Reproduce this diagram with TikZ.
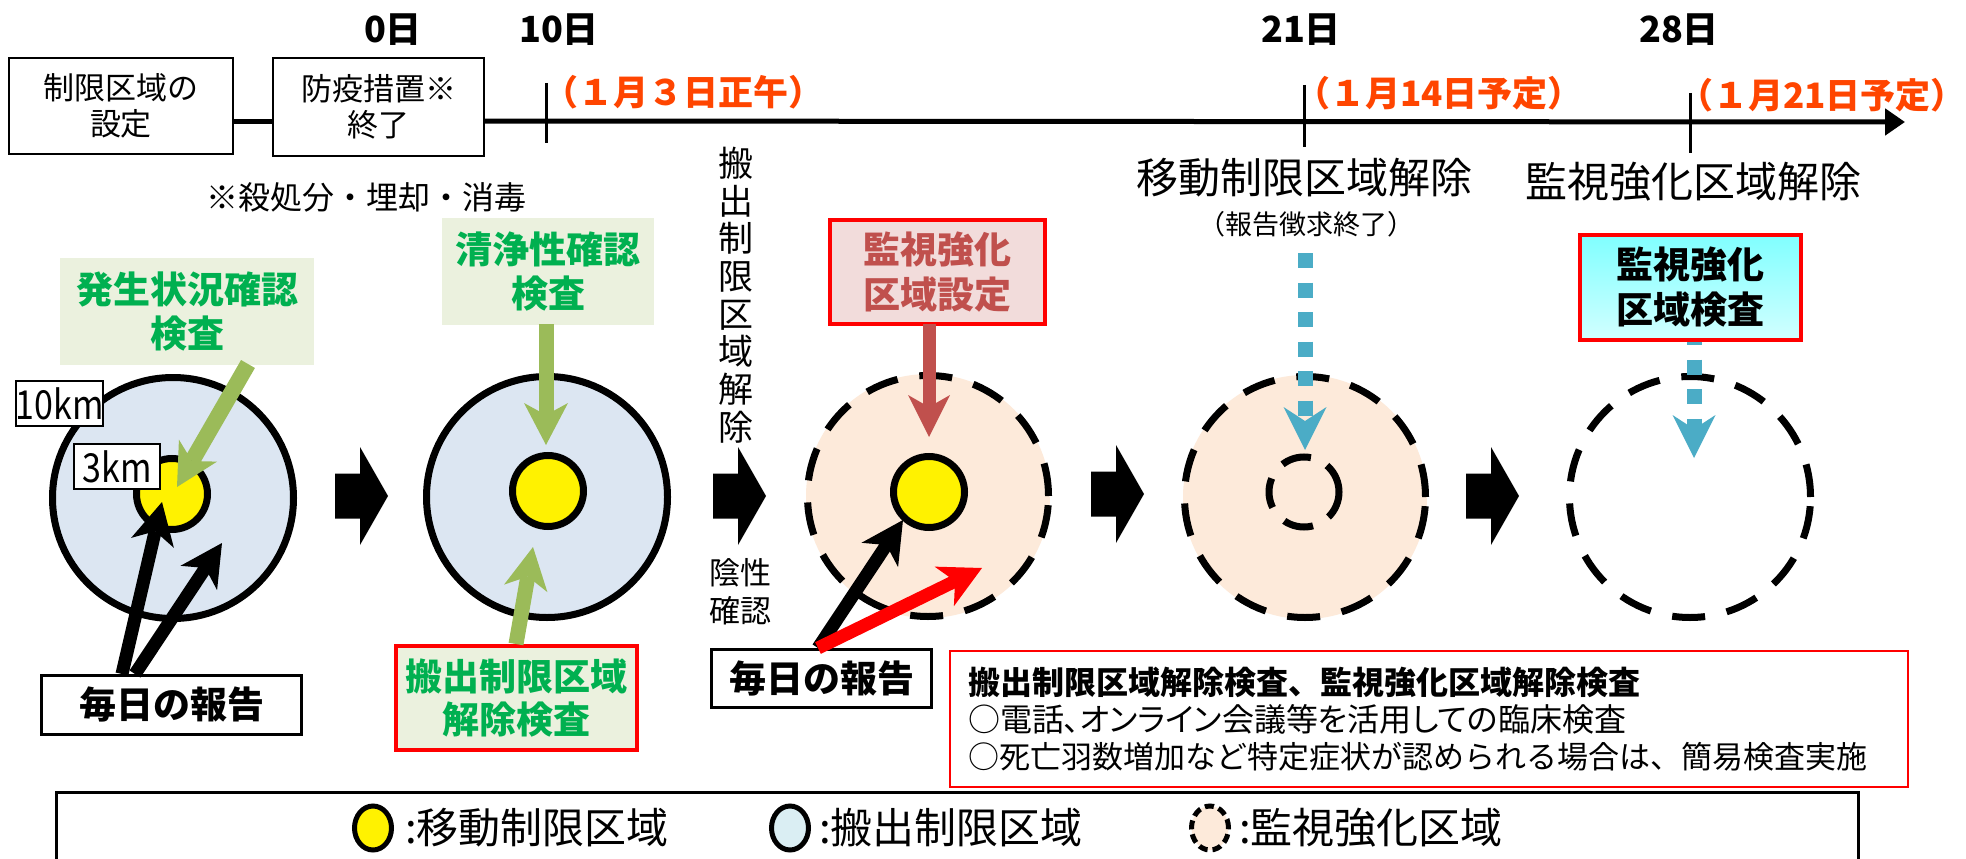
\documentclass[tikz,border=0pt]{standalone}
\usepackage{fontspec}
\usepackage{graphicx}
\setmainfont{Noto Sans CJK JP}
\usetikzlibrary{arrows.meta,shapes.geometric}
\definecolor{zblue}{RGB}{220,230,242}
\definecolor{zpeach}{RGB}{253,234,218}
\definecolor{gfill}{RGB}{235,241,222}
\definecolor{gtext}{RGB}{0,176,80}
\definecolor{garrow}{RGB}{155,187,89}
\definecolor{rfill}{RGB}{242,220,219}
\definecolor{rtext}{RGB}{192,80,77}
\definecolor{carrow}{RGB}{75,172,198}
\definecolor{datered}{RGB}{255,69,0}
\definecolor{lblue}{RGB}{218,238,243}
\definecolor{cyanA}{RGB}{128,255,255}
\definecolor{cyanB}{RGB}{210,255,255}
\definecolor{pured}{RGB}{255,0,0}
\newcommand\fsz[2]{\fontsize{#1pt}{#2pt}\selectfont}
\newcommand\propw{\addfontfeatures{RawFeature=+palt}}
\begin{document}
\begin{tikzpicture}[x=1pt,y=-1pt,
  every node/.style={inner sep=0pt,outer sep=0pt},
  tbox/.style={draw=black,line width=2.5pt,fill=white,align=center,font=\fsz{31}{36}},
  gbox/.style={fill=gfill,text=gtext,align=center,font=\fsz{37}{44}\bfseries},
  repbox/.style={draw=black,line width=3pt,fill=white,font=\fsz{37}{40}\bfseries},
  kmbox/.style={draw=black,line width=2pt,fill=white,font=\fsz{40}{42}},
  day/.style={font=\fsz{36}{40}\bfseries},
  datetxt/.style={anchor=west,text=datered,font=\fsz{35}{38}\bfseries},
  zoneA/.style={circle,draw=black,line width=7pt,fill=zblue,minimum size=241pt},
  zoneC/.style={circle,draw=black,line width=7pt,dash pattern=on 33pt off 22pt,minimum size=241pt},
  yel/.style={circle,draw=black,line width=7pt,fill=yellow,minimum size=71pt},
  innerdash/.style={circle,draw=black,line width=7pt,dash pattern=on 30pt off 18pt,minimum size=70pt},
  legell/.style={ellipse,draw=black,line width=5pt,minimum width=37pt,minimum height=44pt},
  legtxt/.style={anchor=west,font=\fsz{42}{44}},
  blk/.style={line width=13pt,draw=black,-{Stealth[length=42pt,width=44pt,inset=12pt,line width=0pt]}},
  redarr/.style={line width=13pt,draw=pured,-{Stealth[length=42pt,width=44pt,inset=12pt,line width=0pt]}},
  grarr/.style={line width=15pt,draw=garrow,-{Stealth[length=42pt,width=44pt,inset=12pt,line width=0pt]}},
  brarr/.style={line width=13pt,draw=rtext,-{Stealth[length=42pt,width=42pt,inset=12pt,line width=0pt]}},
  cyarr/.style={line width=15pt,draw=carrow,dash pattern=on 15pt off 14.5pt,-{Stealth[length=43pt,width=43pt,inset=14pt,line width=0pt]}},
  chev/.pic={\fill[black] (0,-22.5) -- (25,-22.5) -- (25,-49) -- (53,0) -- (25,49) -- (25,22.5) -- (0,22.5) -- cycle;}
]
\useasboundingbox (0,0) rectangle (1966,859);
\fill[white] (0,0) rectangle (1966,859);

% ---- timeline ----
\node[tbox,minimum width=224pt,minimum height=96pt] (b1) at (121,106) {制限区域の\\設定};
\node[tbox,minimum width=211pt,minimum height=98pt] (b2) at (378.5,107) {防疫措置※\\終了};
\coordinate (tl) at (0,121);
\coordinate (tend) at (1905,122);
\draw[line width=5pt] (b1.east |- tl) -- (b2.west |- tl);
\draw[line width=5pt,-{Triangle[length=20pt,width=26pt]}] (b2.east |- tl) -- (tend);
\draw[line width=3pt] (546,83) -- (546,143);
\draw[line width=3pt] (1304,85) -- (1304,147);
\draw[line width=3pt] (1690,93) -- (1690,153);

\node[day] (d0) at (393,30) {0日};
\node[day] (d10) at (559,30) {10日};
\node[day] (d21) at (1301,30) {21日};
\node[day] (d28) at (1679,30) {28日};
\node[datetxt] (t1) at (543,92) {（１月３日正午）};
\node[datetxt] (t2) at (1295,93) {（１月14日予定）};
\node[datetxt] (t3) at (1678,95) {（１月21日予定）};

\node[font=\fsz{32}{36}] (note) at (366,197) {※殺処分・埋却・消毒};
\node[align=center,font=\fsz{35}{37.7}] (vt) at (736,295) {搬\\出\\制\\限\\区\\域\\解\\除};
\node[align=center,font=\fsz{31}{38}] (neg) at (740,592) {陰性\\確認};
\node[font=\fsz{42}{44}] (h21) at (1304,178) {移動制限区域解除};
\node[font=\fsz{27}{30}] (h21b) at (1306,224) {（報告徴求終了）};
\node[font=\fsz{42}{44}] (h28) at (1693,182) {監視強化区域解除};

% ---- circles ----
\node[zoneA] (c1) at (173,498) {};
\node[yel] (y1) at (172,494) {};
\node[zoneA] (c2) at (547,497) {};
\node[yel] (y2) at (548,491) {};
\fill[zpeach] (928,496) circle[radius=122];
\node[zoneC] (c3) at (928,496) {};
\node[yel] (y3) at (929,492) {};
\fill[zpeach] (1305,497) circle[radius=122];
\node[zoneC] (c4) at (1305,497) {};
\node[innerdash] (i4) at (1304,492) {};
\node[zoneC] (c5) at (1690,497) {};

% ---- chevrons ----
\pic at (335,496) {chev};
\pic at (713,496) {chev};
\pic at (1091,494) {chev};
\pic at (1466,496) {chev};

% ---- boxes ----
\node[gbox,minimum width=254pt,minimum height=107pt] (g1) at (187,311.5) {発生状況確認\\検査};
\node[gbox,minimum width=212pt,minimum height=107pt] (g2) at (548,271.5) {清浄性確認\\検査};
\node[gbox,draw=pured,line width=4pt,minimum width=241pt,minimum height=104pt,font=\fsz{37}{43}\bfseries] (g3) at (516.5,698) {搬出制限区域\\解除検査};
\node[draw=pured,line width=4pt,fill=rfill,text=rtext,align=center,font=\fsz{37}{45}\bfseries,minimum width=215pt,minimum height=104pt] (rb) at (937.5,272) {監視強化\\区域設定};
\node[draw=pured,line width=4pt,top color=cyanA,bottom color=cyanB,align=center,font=\fsz{37}{45}\bfseries,minimum width=221pt,minimum height=105pt] (cb) at (1690.5,287.5) {監視強化\\区域検査};
\node[repbox,minimum width=260pt,minimum height=59pt] (r1) at (171.5,705) {毎日の報告};
\node[repbox,minimum width=220pt,minimum height=58pt] (r2) at (821.5,678.5) {毎日の報告};

% ---- arrows ----
\coordinate (ga1s) at (248,364);
\coordinate (ga1e) at (177,487);
\draw[grarr,line width=16pt] (ga1s) -- (ga1e);
\coordinate (ga2s) at (546,324);
\coordinate (ga2e) at (546,445);
\draw[grarr] (ga2s) -- (ga2e);
\coordinate (ga3s) at (516,644);
\coordinate (ga3e) at (533,547);
\draw[grarr] (ga3s) -- (ga3e);
\coordinate (ba1s) at (122,674);
\coordinate (ba1e) at (162,502);
\draw[blk] (ba1s) -- (ba1e);
\coordinate (ba2s) at (135,674);
\coordinate (ba2e) at (222,543);
\draw[blk] (ba2s) -- (ba2e);
\coordinate (ba3s) at (818,648);
\coordinate (ba3e) at (903,520);
\draw[blk] (ba3s) -- (ba3e);
\coordinate (ra3e) at (982,568);
\draw[redarr] (ba3s) -- (ra3e);
\coordinate (bra1s) at (929,324);
\coordinate (bra1e) at (929,437);
\draw[brarr] (bra1s) -- (bra1e);
\coordinate (cy1s) at (1305,253);
\coordinate (cy1e) at (1305,450);
\draw[cyarr] (cy1s) -- (cy1e);
\coordinate (cy2s) at (1694,342);
\coordinate (cy2e) at (1694,458);
\draw[cyarr,dash phase=12pt] (cy2s) -- (cy2e);

\node[kmbox,minimum width=85pt,minimum height=45pt] (k10) at (59.5,403.5) {\scalebox{0.85}[1]{10km}};
\node[kmbox,minimum width=86pt,minimum height=45pt] (k3) at (117,466.5) {\scalebox{0.85}[1]{3km}};

% ---- info box ----
\node[draw=pured,line width=2pt,anchor=north west,minimum width=958pt,minimum height=136pt,text width=922pt,inner xsep=18pt,align=left,font=\fsz{32}{37}] (info) at (950,651) {{\bfseries 搬出制限区域解除検査、監視強化区域解除検査}\\{\propw ○電話、オンライン会議等を活用しての臨床検査}\\{\fsz{31}{37}○死亡羽数増加など特定症状が認められる場合は、簡易検査実施}};

% ---- legend ----
\draw[line width=3pt] (56,862) -- (56,792) -- (1858,792) -- (1858,862);
\node[legell,fill=yellow] (l1) at (373,828) {};
\node[legtxt] (l1t) at (405,828) {:移動制限区域};
\node[legell,fill=lblue] (l2) at (790,828) {};
\node[legtxt] (l2t) at (819,828) {:搬出制限区域};
\node[legell,fill=zpeach,dash pattern=on 9pt off 5pt] (l3) at (1210,828) {};
\node[legtxt] (l3t) at (1239,828) {:監視強化区域};
\end{tikzpicture}
\end{document}
